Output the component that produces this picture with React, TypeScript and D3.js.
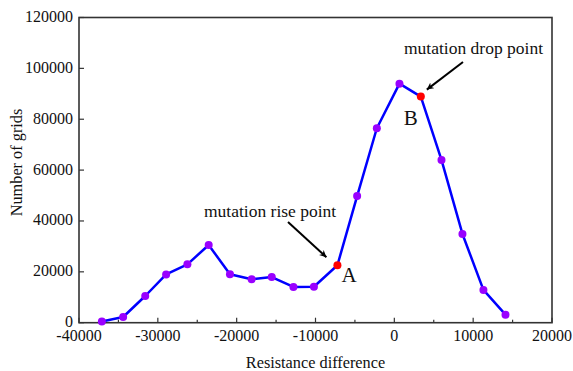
import React from 'react';
import * as d3 from 'd3';

const resistanceDiff = [
  -37100, -34400, -31600, -28950, -26250, -23550, -20850, -18100, -15550, -12800,
  -10200, -7220, -4720, -2220, 650, 3360, 5980, 8640, 11300, 14100,
];
const gridCounts = [
  500, 2250, 10500, 19000, 22950, 30550, 19050, 17050, 17950, 14050,
  14150, 22600, 49800, 76450, 94000, 88900, 64000, 34900, 12900, 3150,
];
// indices of the red "mutation" points
const mutationIdx = [11, 15];

const xTicks = [-40000, -30000, -20000, -10000, 0, 10000, 20000];
const xMinorTicks = d3.range(-35000, 20000, 10000);
const yTicks = [0, 20000, 40000, 60000, 80000, 100000, 120000];

const W = 573;
const H = 371;
const margin = { top: 17.5, right: 21, bottom: 48.3, left: 79 };
const font = 'Liberation Serif, Times New Roman, serif';
const txt = { fontFamily: font };

const App = () => {
  const x = d3.scaleLinear().domain([-40000, 20000]).range([margin.left, W - margin.right]);
  const y = d3.scaleLinear().domain([0, 120000]).range([H - margin.bottom, margin.top]);

  const pts = resistanceDiff.map((d, i) => ({ x: d, y: gridCounts[i], i }));
  const line = d3.line<{ x: number; y: number }>().x(d => x(d.x)).y(d => y(d.y));

  const x0 = x.range()[0], x1 = x.range()[1];
  const y0 = y.range()[0], y1 = y.range()[1];

  const ptA = pts[mutationIdx[0]];
  const ptB = pts[mutationIdx[1]];

  return (
    <svg width={W} height={H} style={{ position: 'absolute', left: 0, top: 0, background: '#fff' }}>
      <defs>
        <marker id="arrow" viewBox="0 0 10 10" refX="10" refY="5" markerWidth="7" markerHeight="7"
          orient="auto-start-reverse" markerUnits="userSpaceOnUse">
          <path d="M0,0 L10,5 L0,10 L3,5 z" fill="#000" />
        </marker>
      </defs>

      {/* frame */}
      <rect x={x0} y={y1} width={x1 - x0} height={y0 - y1} fill="none" stroke="#333" strokeWidth={1.6} />

      {/* x ticks */}
      {xTicks.map(t => (
        <g key={'xt' + t}>
          <line x1={x(t)} x2={x(t)} y1={y0} y2={y0 - 5} stroke="#333" strokeWidth={1.2} />
          <text x={x(t)} y={y0 + 18.5} textAnchor="middle" fontSize={16} fill="#111" style={txt}>{t}</text>
        </g>
      ))}
      {xMinorTicks.map(t => (
        <line key={'xm' + t} x1={x(t)} x2={x(t)} y1={y0} y2={y0 - 3} stroke="#333" strokeWidth={1.2} />
      ))}

      {/* y ticks */}
      {yTicks.map(t => (
        <g key={'yt' + t}>
          <line x1={x0} x2={x0 + 5} y1={y(t)} y2={y(t)} stroke="#333" strokeWidth={1.2} />
          <text x={x0 - 6} y={y(t) + 4.5} textAnchor="end" fontSize={16} fill="#111" style={txt}>{t}</text>
        </g>
      ))}

      {/* axis titles */}
      <text x={(x0 + x1) / 2} y={367.5} textAnchor="middle" fontSize={16.3} fill="#111" style={txt}>
        Resistance difference
      </text>
      <text transform="translate(22,162.5) rotate(-90)" textAnchor="middle" fontSize={16.3}
        fill="#111" style={txt}>
        Number of grids
      </text>

      {/* series */}
      <path d={line(pts) || ''} fill="none" stroke="#0000ff" strokeWidth={2.5} strokeLinejoin="round" />
      {pts.map(p => (
        <circle key={p.i} cx={x(p.x)} cy={y(p.y)} r={4}
          fill={mutationIdx.includes(p.i) ? '#ff0000' : '#9900ff'} />
      ))}

      {/* annotations */}
      <text x={204} y={217} fontSize={17.5} fill="#111" style={txt}>mutation rise point</text>
      <line x1={288} y1={222} x2={x(ptA.x) - 11} y2={y(ptA.y) - 8} stroke="#000" strokeWidth={2}
        markerEnd="url(#arrow)" />
      <text x={x(ptA.x) + 4} y={y(ptA.y) + 17} fontSize={21} fill="#111" style={txt}>A</text>

      <text x={404} y={54} fontSize={17.5} fill="#111" style={txt}>mutation drop point</text>
      <line x1={463} y1={62} x2={x(ptB.x) + 6} y2={y(ptB.y) - 7} stroke="#000" strokeWidth={2}
        markerEnd="url(#arrow)" />
      <text x={x(ptB.x) - 17} y={y(ptB.y) + 28} fontSize={21} fill="#111" style={txt}>B</text>
    </svg>
  );
};

export default App;
